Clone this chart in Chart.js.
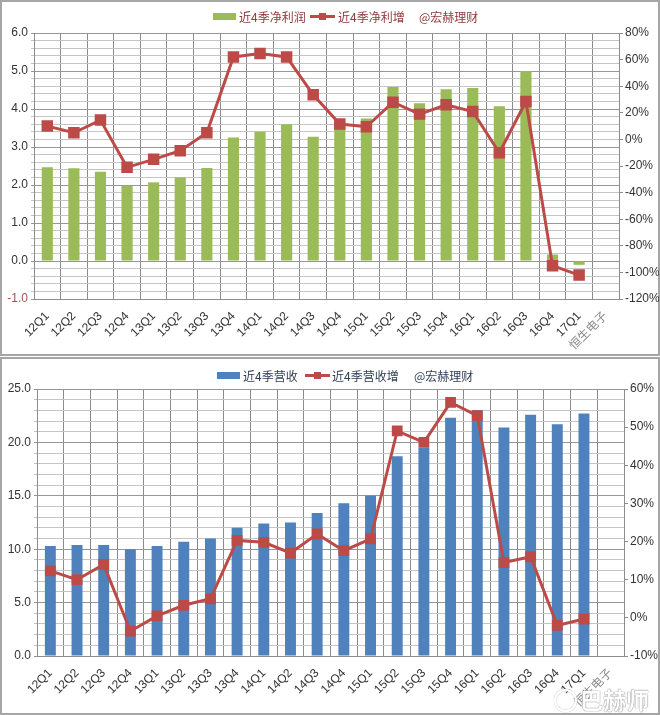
<!DOCTYPE html>
<html>
<head>
<meta charset="utf-8">
<script src="https://cdn.jsdelivr.net/npm/chart.js@4"></script>
<style>
html, body { margin: 0; padding: 0; background: #fff; font-family: "Liberation Sans", "Noto Sans CJK SC", sans-serif; }
#page { position: relative; width: 660px; height: 715px; overflow: hidden; background: #fff; }
.panel { position: absolute; left: 0; width: 656px; border: 2px solid #a6a6a6; background: #fff; }
canvas { position: absolute; left: -1px; top: -1px; }
.legend { position: absolute; font-size: 12px; color: #8e3a3a; white-space: nowrap; font-family: "Noto Sans CJK SC", sans-serif; }
.swatch { position: absolute; top: 5px; height: 7px; width: 23px; }
.lineKey { position: absolute; top: 7px; height: 3px; width: 25px; background: #bc4b48; }
.lineKey i { position: absolute; left: 9px; top: -2px; width: 7px; height: 7px; background: #bc4b48; }
.label { position: absolute; top: 0; }
</style>
</head>
<body>
<div id="page">
  <div class="panel" style="top:0;height:352px"><canvas id="profitChart"></canvas></div>
  <div class="panel" style="top:357px;height:354px"><canvas id="revenueChart"></canvas></div>

  <div class="legend" style="left:213px;top:8px;width:300px;height:18px">
    <span class="swatch" style="left:0;background:#9bbb59"></span><span class="label" style="left:26px">近4季净利润</span>
    <span class="lineKey" style="left:97px"><i></i></span><span class="label" style="left:125px">近4季净利增</span>
    <span class="label" style="left:206px">@宏赫理财</span>
  </div>
  <div class="legend" style="left:217px;top:367px;width:300px;height:18px;color:#2f3f55">
    <span class="swatch" style="left:0;background:#4f81bd"></span><span class="label" style="left:26px">近4季营收</span>
    <span class="lineKey" style="left:88px"><i></i></span><span class="label" style="left:115px">近4季营收增</span>
    <span class="label" style="left:197px">@宏赫理财</span>
  </div>
  <div style="position:absolute;left:554px;top:689px;width:19px;height:19px;border-radius:50%;border:2px solid #fff;box-shadow:0 0 1px #777,inset 0 0 1px #777"></div>
  <div style="position:absolute;left:580px;top:682px;font:bold 23px 'Noto Sans CJK SC',sans-serif;color:#fff;text-shadow:0 0 1px #777,0 0 1px #777">巴赫师</div>
</div>
<script>
// 季度
const categories = ["12Q1","12Q2","12Q3","12Q4","13Q1","13Q2","13Q3","13Q4","14Q1","14Q2","14Q3","14Q4","15Q1","15Q2","15Q3","15Q4","16Q1","16Q2","16Q3","16Q4","17Q1","恒生电子"];

// 上图: 净利润
const profitValues = [2.47,2.44,2.35,1.98,2.07,2.2,2.45,3.25,3.4,3.6,3.27,3.65,3.75,4.58,4.15,4.52,4.55,4.07,5.0,0.17,-0.1,null];
const profitGrowth = [10,5,14.5,-21,-15,-8.5,5,62,64.5,62,33.5,11.5,9.5,28,19,26,21,-10,28.5,-95,-102,null];

// 下图: 营收
const revenueValues = [10.3,10.4,10.4,10.0,10.3,10.7,11,12,12.4,12.5,13.4,14.3,15,18.7,19.5,22.3,23,21.4,22.6,21.7,22.7,null];
const revenueGrowth = [12.3,10,14,-3.5,0.5,3.3,5,20.3,19.8,17,22,17.6,20.7,49,46,56.5,53,14.5,16,-2,-0.3,null];

const lineColor = '#bc4b48';
const textColor = '#333333';

function isMajor(v, major) {
    const r = v / major;
    return Math.abs(r - Math.round(r)) < 1e-6;
}

function drawChart(id, w, h, cfg) {
    const canvas = document.getElementById(id);
    return new Chart(canvas, {
        data: {
            labels: categories,
            datasets: [{
                type: 'line',
                data: cfg.growth,
                yAxisID: 'y1',
                borderColor: lineColor,
                backgroundColor: lineColor,
                borderWidth: 3,
                pointStyle: 'rect',
                pointRadius: cfg.pointRadius,
                tension: 0,
                order: 1,
            }, {
                type: 'bar',
                data: cfg.values,
                yAxisID: 'y',
                backgroundColor: cfg.barColor,
                barPercentage: cfg.barPct,
                categoryPercentage: 1,
                order: 2,
            }],
        },
        options: {
            responsive: false,
            animation: false,
            devicePixelRatio: 1,
            layout: { padding: { top: cfg.top, right: 0, left: 0, bottom: 0 } },
            plugins: { legend: { display: false }, title: { display: false }, tooltip: { enabled: false } },
            scales: {
                x: {
                    grid: { color: '#8c8c8c', offset: true, drawTicks: false },
                    border: { color: '#8c8c8c' },
                    afterFit: (s) => { s.height = h - cfg.bottom; },
                    ticks: {
                        autoSkip: false,
                        minRotation: 45,
                        maxRotation: 45,
                        padding: 10,
                        font: { size: 12, family: '"Liberation Sans", "Noto Sans CJK SC"' },
                        color: (c) => c.index === 21 ? '#8a8a8a' : textColor,
                    },
                },
                y: {
                    position: 'left',
                    min: cfg.leftMin,
                    max: cfg.leftMax,
                    afterFit: (s) => { s.width = cfg.plotLeft; },
                    afterBuildTicks: (s) => {
                        s.ticks = [];
                        const n = Math.round((cfg.leftMax - cfg.leftMin) / cfg.leftStep);
                        for (let i = 0; i <= n; i++) {
                            s.ticks.push({ value: cfg.leftMin + i * cfg.leftStep });
                        }
                    },
                    grid: {
                        color: (c) => isMajor(c.tick.value, cfg.leftMajor) ? '#969696' : '#c4c4c4',
                        tickLength: 3,
                    },
                    border: { color: '#8c8c8c' },
                    ticks: {
                        autoSkip: false,
                        padding: 3,
                        font: { size: 12 },
                        color: (c) => c.tick.value < 0 ? '#a8504e' : textColor,
                        callback: (v) => isMajor(v, cfg.leftMajor) ? v.toFixed(1) : '',
                    },
                },
                y1: {
                    position: 'right',
                    min: cfg.rightMin,
                    max: cfg.rightMax,
                    afterFit: (s) => { s.width = w - cfg.plotRight; },
                    grid: { drawOnChartArea: false, color: '#8c8c8c', tickLength: 4 },
                    border: { color: '#8c8c8c' },
                    ticks: {
                        stepSize: cfg.rightStep,
                        padding: 2,
                        font: { size: 12 },
                        color: textColor,
                        callback: (v) => v + '%',
                    },
                },
            },
        },
        plugins: [],
    });
}

function sizeCanvas(id, w, h) {
    const c = document.getElementById(id);
    c.width = w; c.height = h;
    c.style.width = w + 'px'; c.style.height = h + 'px';
}

sizeCanvas('profitChart', 658, 354);
sizeCanvas('revenueChart', 658, 356);

drawChart('profitChart', 658, 354, {
    values: profitValues, growth: profitGrowth, barColor: '#9bbb59', barPct: 0.42,
    pointRadius: 6, top: 32, bottom: 298, plotLeft: 33, plotRight: 618,
    leftMin: -1, leftMax: 6, leftStep: 0.2, leftMajor: 1,
    rightMin: -120, rightMax: 80, rightStep: 20,
});

drawChart('revenueChart', 658, 356, {
    values: revenueValues, growth: revenueGrowth, barColor: '#4f81bd', barPct: 0.41,
    pointRadius: 5.5, top: 31, bottom: 298, plotLeft: 36, plotRight: 623,
    leftMin: 0, leftMax: 25, leftStep: 1, leftMajor: 5,
    rightMin: -10, rightMax: 60, rightStep: 10,
});
</script>
</body>
</html>
